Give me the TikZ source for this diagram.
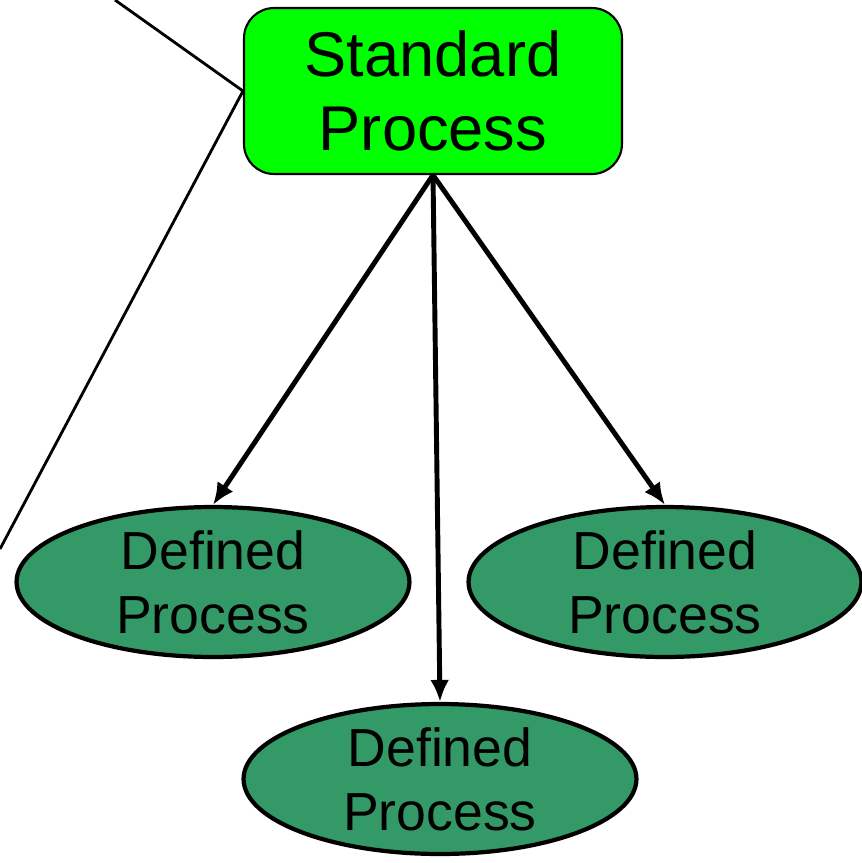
\documentclass[tikz,border=0pt]{standalone}
\usepackage{fontspec}
\setmainfont{Liberation Sans}
\usetikzlibrary{shapes.geometric, arrows.meta}
\definecolor{stdgreen}{HTML}{00FF00}
\definecolor{defgreen}{HTML}{339966}
\tikzstyle{stdbox}=[draw, line width=1.2pt, fill=stdgreen, rounded corners=0.6cm, minimum width=7.56cm, minimum height=3.32cm, align=center, font=\fontsize{36}{42}\selectfont]
\tikzstyle{defproc}=[draw, ellipse, line width=2.4pt, fill=defgreen, inner xsep=0pt, inner ysep=-5pt, minimum width=7.86cm, minimum height=3.0cm, align=center, font=\fontsize{30.5}{36.4}\selectfont]
\tikzstyle{flow}=[-{Latex[length=4.4mm, width=3.8mm]}, line width=2.8pt]

\begin{document}
\begin{tikzpicture}[x=0.02cm, y=-0.02cm]
	\useasboundingbox (0,0) rectangle (862,863);
	\node		[stdbox]	(std)  at (433,91)	{Standard\\Process};
	\node		[defproc]	(defL) at (213,582)	{Defined\\Process};
	\node		[defproc]	(defR) at (665,582)	{Defined\\Process};
	\node		[defproc]	(defB) at (440,779)	{Defined\\Process};
	\coordinate	(upper) at (115,0);
	\coordinate	(lower) at (0,549);
	\draw[line width=1.6pt] (upper)--(std.west)--(lower);
	\draw[flow] (std.south)--(defL.north);
	\draw[flow] (std.south)--(defB.north);
	\draw[flow] (std.south)--(defR.north);
	
\end{tikzpicture}
\end{document}
